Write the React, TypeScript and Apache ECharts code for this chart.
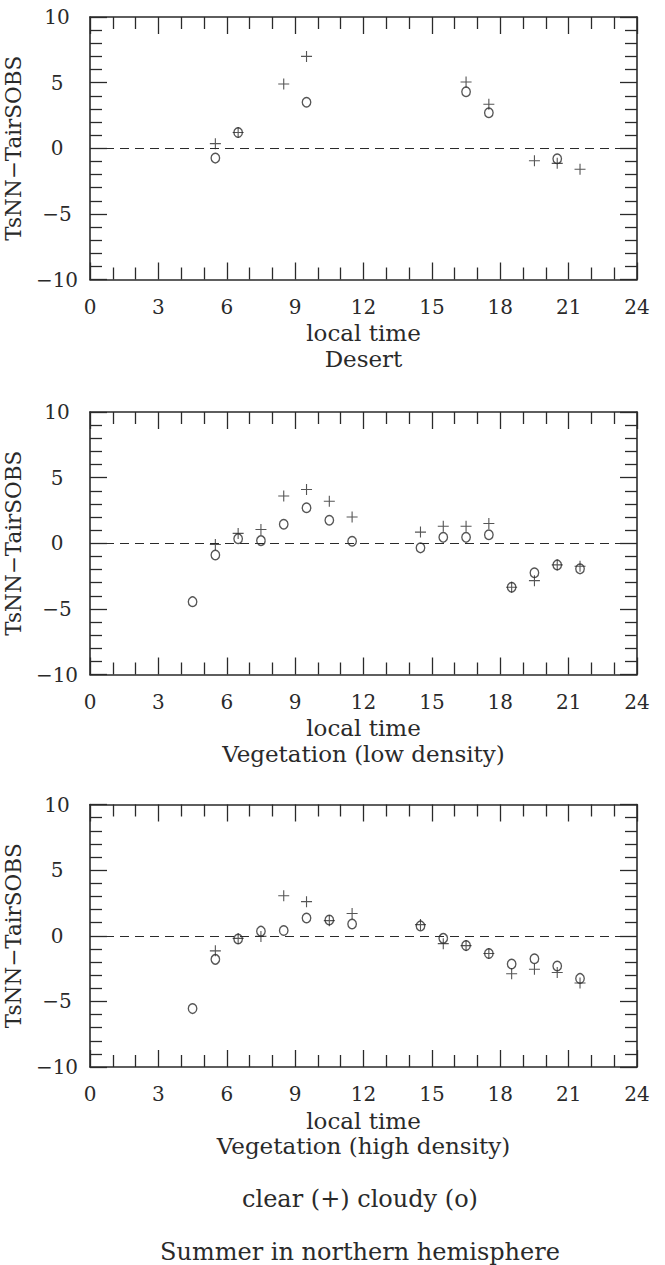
import React, { useEffect, useRef } from "react";
import * as echarts from "echarts";

// ---- data (local time in hours, TsNN - TairSOBS) ----
const hoursClear1 = [5.5, 6.5, 8.5, 9.5, 16.5, 17.5, 19.5, 20.5, 21.5];
const clear1 = [0.35, 1.2, 4.9, 7.0, 5.05, 3.35, -0.95, -1.15, -1.6];
const hoursCloudy1 = [5.5, 6.5, 9.5, 16.5, 17.5, 20.5];
const cloudy1 = [-0.75, 1.2, 3.5, 4.3, 2.7, -0.8];

const hoursClear2 = [5.5, 6.5, 7.5, 8.5, 9.5, 10.5, 11.5, 14.5, 15.5, 16.5, 17.5, 18.5, 19.5, 20.5, 21.5];
const clear2 = [-0.1, 0.75, 1.05, 3.6, 4.1, 3.2, 2.0, 0.85, 1.3, 1.3, 1.5, -3.35, -2.85, -1.65, -1.75];
const hoursCloudy2 = [4.5, 5.5, 6.5, 7.5, 8.5, 9.5, 10.5, 11.5, 14.5, 15.5, 16.5, 17.5, 18.5, 19.5, 20.5, 21.5];
const cloudy2 = [-4.45, -0.9, 0.35, 0.2, 1.45, 2.7, 1.75, 0.15, -0.35, 0.45, 0.45, 0.65, -3.35, -2.25, -1.65, -1.95];

const hoursClear3 = [5.5, 6.5, 7.5, 8.5, 9.5, 10.5, 11.5, 14.5, 15.5, 16.5, 17.5, 18.5, 19.5, 20.5, 21.5];
const clear3 = [-1.15, -0.2, -0.05, 3.05, 2.6, 1.15, 1.7, 0.85, -0.6, -0.75, -1.35, -2.9, -2.55, -2.8, -3.6];
const hoursCloudy3 = [4.5, 5.5, 6.5, 7.5, 8.5, 9.5, 10.5, 11.5, 14.5, 15.5, 16.5, 17.5, 18.5, 19.5, 20.5, 21.5];
const cloudy3 = [-5.55, -1.8, -0.25, 0.35, 0.4, 1.35, 1.2, 0.9, 0.75, -0.2, -0.75, -1.35, -2.15, -1.75, -2.3, -3.25];

const panelTitles = ["Desert", "Vegetation (low density)", "Vegetation (high density)"];
const xAxisTitle = "local time";
const yAxisTitle = "TsNN\u2212TairSOBS";
const legendText = "clear (+) cloudy (o)";
const footerText = "Summer in northern hemisphere";
const xMin = 0, xMax = 24, xStep = 3;
const yMin = -10, yMax = 10, yStep = 5;

const panels = [
  { hc: hoursClear1, c: clear1, ho: hoursCloudy1, o: cloudy1 },
  { hc: hoursClear2, c: clear2, ho: hoursCloudy2, o: cloudy2 },
  { hc: hoursClear3, c: clear3, ho: hoursCloudy3, o: cloudy3 },
];

const FONT = "DejaVu Serif";
const INK = "#2a2a2a";
const GRID_LEFT = 90;
const GRID_W = 547;
const GRID_H = 262.5;
const gridTops = [17, 412, 804.5];

function zip(xs: number[], ys: number[]) {
  return xs.map((x, i) => [x, ys[i]]);
}
const minusFmt = (v: number) => String(v).replace("-", "\u2212");

export default function App() {
  const ref = useRef<HTMLDivElement>(null);
  useEffect(() => {
    document.body.style.margin = "0";
    if (!ref.current) return;
    const chart = echarts.init(ref.current, null, { renderer: "svg" });

    const grids: any[] = [];
    const xAxes: any[] = [];
    const yAxes: any[] = [];
    const series: any[] = [];
    const graphics: any[] = [];

    const tickLine = { color: INK, width: 1.3 };
    const boxLine = { show: true, onZero: false, lineStyle: { color: INK, width: 1.6 } };

    panels.forEach((p, i) => {
      grids.push({ left: GRID_LEFT, width: GRID_W, top: gridTops[i], height: GRID_H, outerBoundsMode: "none", containLabel: false });

      const xCommon = { type: "value", gridIndex: i, min: xMin, max: xMax, interval: xStep, splitLine: { show: false }, minorSplitLine: { show: false } };
      const xTicks = {
        ...xCommon,
        axisLine: boxLine,
        axisTick: { show: true, inside: false, length: 17, lineStyle: tickLine },
        minorTick: { show: true, splitNumber: 3, length: 12, lineStyle: tickLine },
        axisLabel: { show: false },
      };
      const xLabelIdx = xAxes.length;
      xAxes.push({
        ...xCommon, position: "bottom",
        axisLine: { show: false, onZero: false },
        axisTick: { show: false }, minorTick: { show: false },
        axisLabel: { show: true, margin: 17, fontFamily: FONT, fontSize: 20, color: INK, showMinLabel: true, showMaxLabel: true, hideOverlap: false },
        name: xAxisTitle, nameLocation: "middle", nameGap: 42,
        nameTextStyle: { fontFamily: FONT, fontSize: 23, color: INK },
      });
      // bottom edge with inward ticks (top-positioned axis shifted down)
      xAxes.push({ ...xTicks, position: "top", offset: -GRID_H });
      // top edge with inward ticks (bottom-positioned axis shifted up)
      xAxes.push({ ...xTicks, position: "bottom", offset: -GRID_H });

      const yCommon = { type: "value", gridIndex: i, min: yMin, max: yMax, interval: yStep, splitLine: { show: false }, minorSplitLine: { show: false } };
      const yTicks = {
        ...yCommon,
        axisLine: boxLine,
        axisTick: { show: true, inside: false, length: 17, lineStyle: tickLine },
        minorTick: { show: true, splitNumber: 5, length: 12, lineStyle: tickLine },
        axisLabel: { show: false },
      };
      const yLabelIdx = yAxes.length;
      yAxes.push({
        ...yCommon, position: "left",
        axisLine: { show: false, onZero: false },
        axisTick: { show: false }, minorTick: { show: false },
        axisLabel: { show: true, margin: 33, align: "center", fontFamily: FONT, fontSize: 20, color: INK, formatter: minusFmt, showMinLabel: true, showMaxLabel: true, hideOverlap: false },
        name: yAxisTitle, nameLocation: "middle", nameGap: 45,
        nameTextStyle: { fontFamily: FONT, fontSize: 21.5, color: INK },
      });
      // left edge with inward ticks (right-positioned axis shifted left)
      yAxes.push({ ...yTicks, position: "right", offset: -GRID_W });
      // right edge with inward ticks (left-positioned axis shifted right)
      yAxes.push({ ...yTicks, position: "left", offset: -GRID_W });

      series.push({
        type: "scatter", name: "clear", xAxisIndex: xLabelIdx, yAxisIndex: yLabelIdx,
        data: zip(p.hc, p.c),
        symbol: "path://M5,0L5,10M0,5L10,5", symbolSize: 11,
        itemStyle: { color: "transparent", borderColor: INK, borderWidth: 1.1 },
        silent: true,
        markLine: {
          silent: true, symbol: "none", label: { show: false },
          lineStyle: { type: [9, 6], color: INK, width: 1.1 },
          data: [{ yAxis: 0 }],
        },
      });
      series.push({
        type: "scatter", name: "cloudy", xAxisIndex: xLabelIdx, yAxisIndex: yLabelIdx,
        data: zip(p.ho, p.o),
        symbol: "circle", symbolSize: [8.5, 9.5],
        itemStyle: { color: "transparent", borderColor: INK, borderWidth: 1.4 },
        silent: true,
      });

      graphics.push({
        type: "text", x: GRID_LEFT + GRID_W / 2, y: gridTops[i] + GRID_H + 79,
        style: { text: panelTitles[i], fontFamily: FONT, fontSize: 23, fill: INK, align: "center", verticalAlign: "middle" },
      });
    });

    graphics.push(
      { type: "text", x: 360, y: 1199, style: { text: legendText, fontFamily: FONT, fontSize: 24, fill: INK, align: "center", verticalAlign: "middle" } },
      { type: "text", x: 360, y: 1252, style: { text: footerText, fontFamily: FONT, fontSize: 24, fill: INK, align: "center", verticalAlign: "middle" } },
    );

    chart.setOption({
      animation: false,
      backgroundColor: "#ffffff",
      grid: grids,
      xAxis: xAxes,
      yAxis: yAxes,
      series,
      graphic: graphics,
    });
    return () => chart.dispose();
  }, []);
  return <div ref={ref} style={{ width: 665, height: 1265 }} />;
}
